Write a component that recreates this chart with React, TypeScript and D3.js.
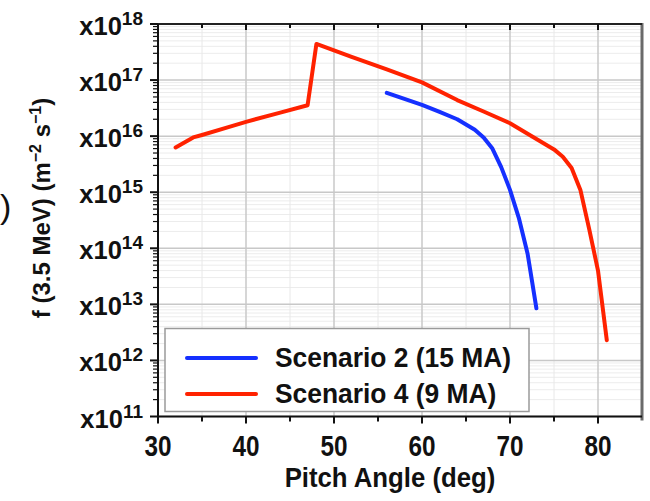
import React from "react";
import * as d3 from "d3";

const pitchRed = [32, 34, 35, 38, 40, 44, 47, 48, 52, 56, 60, 64, 67, 70, 73, 75, 76, 77, 78, 79, 80, 81];
const fluxRed = [6.3e15, 9.5e15, 1.05e16, 1.45e16, 1.8e16, 2.65e16, 3.55e16, 4.4e17, 2.6e17, 1.55e17, 9.1e16, 4.4e16, 2.75e16, 1.7e16, 8.9e15, 5.8e15, 4.3e15, 2.7e15, 1.1e15, 2.2e14, 4e13, 2.3e12];
const pitchBlue = [56, 60, 62, 64, 66, 67, 68, 69, 70, 71, 72, 73];
const fluxBlue = [5.9e16, 3.6e16, 2.7e16, 2.0e16, 1.3e16, 9.5e15, 6e15, 2.8e15, 1.1e15, 3.5e14, 8e13, 8.5e12];
const xTicks = [30, 40, 50, 60, 70, 80];
const yExponents = [11, 12, 13, 14, 15, 16, 17, 18];
const seriesNames = ["Scenario 2 (15 MA)", "Scenario 4 (9 MA)"];
const seriesColors = ["#1530ff", "#ff2200"];

const W = 650;
const H = 501;
const L = 158, R = 642, T = 24, B = 416.5;
const FONT = "'Liberation Sans', Arial, Helvetica, sans-serif";

export default function App() {
  const x = d3.scaleLinear().domain([30, 85]).range([L, R]);
  const y = d3.scaleLog().domain([1e11, 1e18]).range([B, T]);
  const line = d3
    .line<[number, number]>()
    .x((d) => x(d[0]))
    .y((d) => y(d[1]));
  const redData = pitchRed.map((p, i) => [p, fluxRed[i]] as [number, number]);
  const blueData = pitchBlue.map((p, i) => [p, fluxBlue[i]] as [number, number]);

  const minorY: number[] = [];
  for (let e = 11; e < 18; e++) for (let m = 2; m <= 9; m++) minorY.push(m * Math.pow(10, e));
  const minorX = [35, 45, 55, 65, 75, 85];

  return (
    <svg width={W} height={H} style={{ position: "absolute", left: 0, top: 0, background: "#fff" }} fontFamily={FONT}>
      <rect x={0} y={0} width={W} height={H} fill="#fff" />
      {/* minor grid */}
      {minorY.map((v, i) => (
        <line key={"my" + i} x1={L} x2={R} y1={y(v)} y2={y(v)} stroke="#ececec" strokeWidth={1} />
      ))}
      {minorX.map((v, i) => (
        <line key={"mx" + i} x1={x(v)} x2={x(v)} y1={T} y2={B} stroke="#e8e8e8" strokeWidth={1} />
      ))}
      {/* major grid */}
      {yExponents.map((e) => (
        <line key={"gy" + e} x1={L} x2={R} y1={y(Math.pow(10, e))} y2={y(Math.pow(10, e))} stroke="#c8c8c8" strokeWidth={1.5} />
      ))}
      {xTicks.map((v) => (
        <line key={"gx" + v} x1={x(v)} x2={x(v)} y1={T} y2={B} stroke="#c8c8c8" strokeWidth={1.5} />
      ))}
      {/* curves */}
      <path d={line(redData) || ""} fill="none" stroke={seriesColors[1]} strokeWidth={4} strokeLinejoin="round" strokeLinecap="round" />
      <path d={line(blueData) || ""} fill="none" stroke={seriesColors[0]} strokeWidth={4} strokeLinejoin="round" strokeLinecap="round" />
      {/* frame */}
      <line x1={R} x2={R} y1={T - 1} y2={B + 4} stroke="#6a6a6a" strokeWidth={3} />
      <line x1={L} x2={R} y1={T} y2={T} stroke="#222" strokeWidth={2} />
      <line x1={L - 1} x2={R} y1={B} y2={B} stroke="#111" strokeWidth={2} />
      <line x1={L} x2={L} y1={T} y2={B + 1} stroke="#111" strokeWidth={2} />
      {/* y ticks */}
      {yExponents.map((e) => (
        <line key={"ty" + e} x1={L - 8} x2={L} y1={y(Math.pow(10, e))} y2={y(Math.pow(10, e))} stroke="#111" strokeWidth={2} />
      ))}
      {minorY.map((v, i) => (
        <line key={"tmy" + i} x1={L - 5} x2={L} y1={y(v)} y2={y(v)} stroke="#111" strokeWidth={1.2} />
      ))}
      {/* x ticks bottom and top */}
      {xTicks.map((v) => (
        <g key={"tx" + v}>
          <line x1={x(v)} x2={x(v)} y1={B} y2={B + 7} stroke="#111" strokeWidth={2} />
          <line x1={x(v)} x2={x(v)} y1={T} y2={T + 6} stroke="#111" strokeWidth={2} />
        </g>
      ))}
      {minorX.filter((v) => v < 85).map((v) => (
        <g key={"tmx" + v}>
          <line x1={x(v)} x2={x(v)} y1={B} y2={B + 5} stroke="#111" strokeWidth={2} />
          <line x1={x(v)} x2={x(v)} y1={T} y2={T + 4} stroke="#111" strokeWidth={2} />
        </g>
      ))}
      {/* y tick labels */}
      {yExponents.map((e) => (
        <text key={"ly" + e} x={143} y={y(Math.pow(10, e)) + 11} textAnchor="end" fontWeight="bold" fontSize={25.5} fill="#111">
          x10
          <tspan fontSize={19} dy={-10}>{e}</tspan>
        </text>
      ))}
      {/* x tick labels */}
      {xTicks.map((v) => (
        <text key={"lx" + v} transform={`translate(${x(v)},456) scale(0.9,1.08)`} textAnchor="middle" fontWeight="bold" fontSize={27} fill="#111">
          {v}
        </text>
      ))}
      {/* axis titles */}
      <text transform={`translate(390,487) scale(0.92,1)`} textAnchor="middle" fontWeight="bold" fontSize={28} fill="#111">
        Pitch Angle (deg)
      </text>
      <text transform={`translate(50,208) rotate(-90)`} textAnchor="middle" fontWeight="bold" fontSize={24} fill="#111">
        f (3.5 MeV) (m
        <tspan fontSize={16} dy={-9}>−2</tspan>
        <tspan dy={9}> s</tspan>
        <tspan fontSize={16} dy={-9}>−1</tspan>
        <tspan dy={9}>)</tspan>
      </text>
      {/* cropped neighbour artifact */}
      <text x={0} y={218} fontSize={34} fill="#111">)</text>
      {/* legend */}
      <rect x={165} y={328.5} width={364} height={83} fill="#fff" stroke="#9a9a9a" strokeWidth={1.5} />
      {seriesNames.map((name, i) => (
        <g key={name}>
          <line x1={187} x2={256} y1={358 + i * 36} y2={358 + i * 36} stroke={seriesColors[i]} strokeWidth={4} strokeLinecap="round" />
          <text transform={`translate(275,${367 + i * 36}) scale(0.96,1)`} fontWeight="bold" fontSize={27.5} fill="#111">
            {name}
          </text>
        </g>
      ))}
    </svg>
  );
}
